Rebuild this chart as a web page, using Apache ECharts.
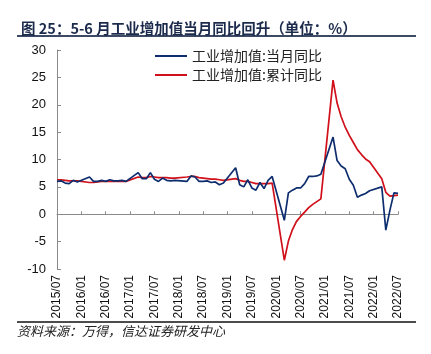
<!DOCTYPE html>
<html>
<head>
<meta charset="utf-8">
<script src="https://cdn.jsdelivr.net/npm/echarts@6/dist/echarts.min.js"></script>
<style>
html,body{margin:0;padding:0;background:#fff;}
#c{width:431px;height:354px;}
</style>
</head>
<body>
<div id="c"></div>
<script>
// Monthly categories 2015/07 .. 2022/07
const categories = [];
for (let y = 2015; y <= 2022; y++) {
  for (let m = 1; m <= 12; m++) {
    if (y === 2015 && m < 7) continue;
    if (y === 2022 && m > 7) continue;
    categories.push(y + '/' + (m < 10 ? '0' + m : m));
  }
}

// 工业增加值:当月同比 (Jan/Feb not shown -> null)
const monthlyYoY = [
  // 2015 Jul-Dec
  6.0, 6.1, 5.7, 5.6, 6.2, 5.9,
  // 2016
  null, null, 6.8, 6.0, 6.0, 6.2, 6.0, 6.3, 6.1, 6.1, 6.2, 6.0,
  // 2017
  null, null, 7.6, 6.5, 6.5, 7.6, 6.4, 6.0, 6.6, 6.2, 6.1, 6.2,
  // 2018
  null, null, 6.0, 7.0, 6.8, 6.0, 6.0, 6.1, 5.8, 5.9, 5.4, 5.7,
  // 2019
  null, null, 8.5, 5.4, 5.0, 6.3, 4.8, 4.4, 5.8, 4.7, 6.2, 6.9,
  // 2020
  null, null, -1.1, 3.9, 4.4, 4.8, 4.8, 5.6, 6.9, 6.9, 7.0, 7.3,
  // 2021
  null, null, 14.1, 9.8, 8.8, 8.3, 6.4, 5.3, 3.1, 3.5, 3.8, 4.3,
  // 2022 Jan-Jul
  null, null, 5.0, -2.9, 0.7, 3.9, 3.8
];

// 工业增加值:累计同比
const cumulativeYoY = [
  // 2015 Jul-Dec
  6.3, 6.3, 6.2, 6.1, 6.1, 6.1,
  // 2016
  null, null, 5.8, 5.8, 5.9, 6.0, 6.0, 6.0, 6.0, 6.0, 6.0, 6.0,
  // 2017
  null, null, 6.8, 6.7, 6.7, 6.9, 6.8, 6.7, 6.7, 6.7, 6.6, 6.6,
  // 2018
  null, null, 6.8, 6.9, 6.9, 6.7, 6.6, 6.5, 6.4, 6.4, 6.3, 6.2,
  // 2019
  null, null, 6.5, 6.2, 6.0, 6.0, 5.8, 5.6, 5.6, 5.6, 5.6, 5.7,
  // 2020
  null, null, -8.4, -4.9, -2.8, -1.3, -0.4, 0.4, 1.2, 1.8, 2.3, 2.8,
  // 2021
  null, null, 24.5, 20.3, 17.8, 15.9, 14.4, 13.1, 11.8, 10.9, 10.1, 9.6,
  // 2022 Jan-Jul
  null, null, 6.5, 4.0, 3.3, 3.4, 3.5
];

const seriesNames = ['工业增加值:当月同比', '工业增加值:累计同比'];
const yTicks = { min: -10, max: 30, interval: 5 };

const chart = echarts.init(document.getElementById('c'), null, { renderer: 'canvas' });
const font = '"Liberation Sans", Arial, sans-serif';
const cjk = '"Noto Sans CJK SC", "Liberation Sans", sans-serif';

chart.setOption({
  animation: false,
  backgroundColor: '#ffffff',
  title: {
    text: '图 25：5-6 月工业增加值当月同比回升（单位：%）',
    left: 16, top: 16,
    textStyle: { fontFamily: cjk, fontSize: 14.5, fontWeight: 'bold', color: '#1c2b4c' }
  },
  graphic: [
    { type: 'line', shape: { x1: 17, y1: 36, x2: 416, y2: 36 }, style: { stroke: '#3d4a66', lineWidth: 2 } },
    { type: 'line', shape: { x1: 17, y1: 322, x2: 416, y2: 322 }, style: { stroke: '#111111', lineWidth: 1.6 } },
    { type: 'text', left: 17, top: 325,
      style: { text: '资料来源：万得，信达证券研发中心', font: 'italic 13px "Noto Sans CJK SC", sans-serif', fill: '#222' } }
  ],
  legend: {
    orient: 'vertical',
    left: 150, top: 44,
    padding: 5,
    itemWidth: 32, itemHeight: 2, itemGap: 5,
    icon: 'rect',
    textStyle: { fontFamily: cjk, fontSize: 14, color: '#222', lineHeight: 14 },
    data: seriesNames
  },
  grid: { left: 57, right: 33, top: 50, bottom: 85, containLabel: false },
  xAxis: [
    {
      type: 'category',
      data: categories,
      boundaryGap: false,
      position: 'bottom',
      axisLine: { show: false, onZero: false },
      axisTick: { show: false },
      axisLabel: {
        interval: 5, rotate: 90, margin: 6,
        fontFamily: font, fontSize: 12, color: '#111'
      },
      splitLine: { show: false }
    },
    {
      type: 'category',
      data: categories,
      boundaryGap: false,
      position: 'bottom',
      axisLine: { show: true, onZero: true, lineStyle: { color: '#8a8a8a', width: 1 } },
      axisTick: { show: true, inside: true, interval: 5, length: 3, lineStyle: { color: '#8a8a8a' } },
      axisLabel: { show: false },
      splitLine: { show: false }
    }
  ],
  yAxis: {
    type: 'value',
    min: yTicks.min, max: yTicks.max, interval: yTicks.interval,
    axisLine: { show: true, lineStyle: { color: '#8a8a8a', width: 1 } },
    axisTick: { show: true, inside: true, length: 4, lineStyle: { color: '#8a8a8a' } },
    axisLabel: { margin: 11, fontFamily: font, fontSize: 13, color: '#111' },
    splitLine: { show: false }
  },
  series: [
    {
      name: seriesNames[0], type: 'line', xAxisIndex: 0,
      data: monthlyYoY, connectNulls: true, showSymbol: false, symbol: 'none',
      lineStyle: { color: '#0d2d6e', width: 1.7 }, itemStyle: { color: '#0d2d6e' }, z: 3
    },
    {
      name: seriesNames[1], type: 'line', xAxisIndex: 0,
      data: cumulativeYoY, connectNulls: true, showSymbol: false, symbol: 'none',
      lineStyle: { color: '#d0101a', width: 1.7 }, itemStyle: { color: '#d0101a' }, z: 2
    }
  ]
});
</script>
</body>
</html>
